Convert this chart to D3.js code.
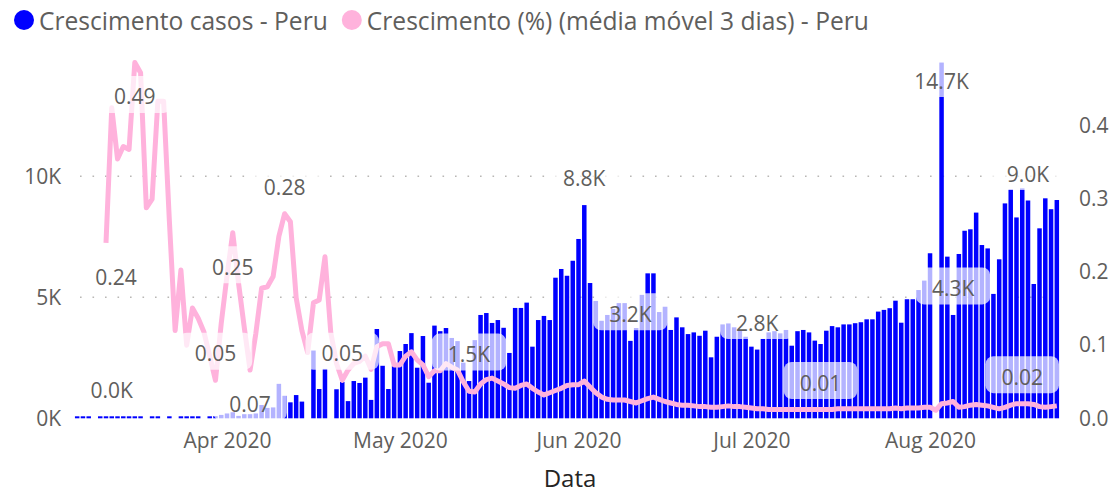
<!DOCTYPE html>
<html>
<head>
<meta charset="utf-8">
<script src="https://cdn.jsdelivr.net/npm/d3@7/dist/d3.min.js"></script>
<style>
  html, body { margin: 0; padding: 0; background: #fff; }
  svg { display: block; font-family: "Segoe UI", "Open Sans", sans-serif; }
</style>
</head>
<body>
<svg id="chart" width="1116" height="493"></svg>
<script>
// Daily new cases in Peru, one value per day starting 2020-03-06
const startDate = "2020-03-06";
const dailyCases = [
  20, 30, 25, 0, 30, 35, 40, 30, 35, 40, 45, 40, 0, 45, 40, 0, 45, 0, 40, 45, 40, 45, 0,
  60, 90, 140, 200, 250, 100, 170, 170, 200, 550, 430, 450, 1420, 930, 660, 960, 690, 0,
  2800, 1210, 2040, 0, 1200, 1500, 710, 1540, 1460, 1680, 760, 3690, 2170, 1210, 2170,
  2780, 3070, 3520, 2090, 3400, 1470, 3830, 3600, 3730, 3320, 3190, 2300, 1540, 3230,
  4270, 4350, 3940, 4060, 3740, 2700, 4560, 4560, 4780, 2960, 4060, 4230, 4060, 5810,
  6170, 5890, 6510, 7410, 8810, 5590, 4850, 4030, 4270, 4520, 4760, 4760, 3200, 3730,
  5100, 5990, 5990, 4390, 4610, 3650, 4170, 3760, 3480, 3550, 3410, 3620, 2520, 3370,
  3880, 3920, 3760, 3650, 3370, 2960, 2840, 3280, 3550, 3600, 3510, 3650, 3000, 3600,
  3650, 3550, 3210, 3070, 3620, 3810, 3760, 3880, 3880, 3930, 3970, 4090, 4090, 4410,
  4480, 4550, 4860, 3950, 4920, 4920, 5300, 5690, 6820, 0, 14700, 6680, 4270, 6790,
  7750, 7810, 8500, 7160, 7020, 5140, 6570, 8880, 9460, 8300, 9500, 9000, 5550, 7850,
  9090, 8640, 9020
];

// Growth rate, 3-day moving average (null where not yet defined)
const growthMA3 = [
  null, null, null, null, null,
  0.240, 0.425, 0.355, 0.372, 0.368, 0.487, 0.473, 0.288, 0.300, 0.434,
  0.434, 0.270, 0.120, 0.203, 0.100, 0.151, 0.137, 0.118, 0.085, 0.052,
  0.130, 0.195, 0.254, 0.185, 0.124, 0.066, 0.116, 0.178, 0.180, 0.194,
  0.249, 0.280, 0.269, 0.165, 0.120, 0.090, 0.158, 0.162, 0.221, 0.118,
  0.075, 0.052, 0.066, 0.075, 0.078, 0.085, 0.067, 0.098, 0.102, 0.102,
  0.073, 0.073, 0.085, 0.091, 0.080, 0.073, 0.057, 0.065, 0.065, 0.075,
  0.070, 0.066, 0.050, 0.037, 0.036, 0.047, 0.053, 0.055, 0.051, 0.047,
  0.042, 0.041, 0.045, 0.047, 0.041, 0.036, 0.032, 0.035, 0.038, 0.041,
  0.045, 0.046, 0.046, 0.051, 0.043, 0.035, 0.029, 0.026, 0.025, 0.025,
  0.025, 0.023, 0.021, 0.024, 0.027, 0.029, 0.026, 0.023, 0.021, 0.019,
  0.018, 0.018, 0.017, 0.016, 0.016, 0.015, 0.015, 0.016, 0.017, 0.016,
  0.016, 0.015, 0.014, 0.013, 0.013, 0.012, 0.012, 0.012, 0.012, 0.012,
  0.012, 0.012, 0.012, 0.012, 0.012, 0.012, 0.012, 0.013, 0.013, 0.013,
  0.013, 0.013, 0.013, 0.013, 0.013, 0.013, 0.013, 0.014, 0.013, 0.014,
  0.014, 0.014, 0.015, 0.015, 0.011, 0.020, 0.021, 0.023, 0.015, 0.016,
  0.018, 0.019, 0.018, 0.017, 0.015, 0.013, 0.015, 0.018, 0.020, 0.020,
  0.020, 0.019, 0.016, 0.015, 0.016, 0.017
];

const leftTicks = [0, 5000, 10000];
const rightTicks = [0, 0.1, 0.2, 0.3, 0.4];
const monthTicks = ["2020-04-01", "2020-05-01", "2020-06-01", "2020-07-01", "2020-08-01"];
const legendLabels = ["Crescimento casos - Peru", "Crescimento (%) (média móvel 3 dias) - Peru"];
const axisTitle = "Data";

// Days (by index) that carry a data label, and where the label sits
const barLabelDays = [
  { day: 6, place: "above" }, { day: 68, place: "above" }, { day: 88, place: "above" },
  { day: 96, place: "above" }, { day: 118, place: "above" }, { day: 150, place: "inside" },
  { day: 152, place: "above" }, { day: 165, place: "above" }
];
const lineLabelDays = [
  { day: 5, place: "below", dx: 10 }, { day: 10, place: "below" }, { day: 24, place: "above" },
  { day: 27, place: "below" }, { day: 30, place: "below" }, { day: 36, place: "above" },
  { day: 46, place: "above" }, { day: 129, place: "above" }, { day: 164, place: "above" }
];

const BLUE = "#0000FF";
const PINK = "#FFB2DC";
const TEXT = "#605E5C";
const DAY = 864e5;

const t0 = new Date(startDate + "T00:00:00Z").getTime();
const dates = dailyCases.map((_, i) => new Date(t0 + i * DAY));
const rows = dates.map((d, i) => ({ i, date: d, cases: dailyCases[i], growth: growthMA3[i] }));

const svg = d3.select("#chart");
const baseY = 418.3;

const x = d3.scaleUtc()
  .domain([new Date(t0 - 0.5 * DAY), new Date(t0 + (dailyCases.length - 0.5) * DAY)])
  .range([74.3, 1059.7]);
const dayW = x(new Date(t0 + DAY)) - x(new Date(t0));
const barW = dayW * 0.78;

const yL = d3.scaleLinear().domain([0, 15000]).range([baseY, baseY - 15 * 24.2]);
const yR = d3.scaleLinear().domain([0, 0.5]).range([baseY, baseY - 0.5 * 730.7]);

// gridlines
svg.append("g").selectAll("line").data(leftTicks.filter(t => t > 0)).join("line")
  .attr("x1", 80).attr("x2", 1060)
  .attr("y1", d => yL(d)).attr("y2", d => yL(d))
  .attr("stroke", "#B9B7B5").attr("stroke-width", 1.6)
  .attr("stroke-dasharray", "1.6 10.9");

// bars
svg.append("g").selectAll("rect").data(rows.filter(r => r.cases > 0)).join("rect")
  .attr("x", r => x(r.date) - barW / 2)
  .attr("width", barW)
  .attr("y", r => Math.min(yL(r.cases), baseY - 2))
  .attr("height", r => Math.max(baseY - yL(r.cases), 2))
  .attr("fill", BLUE);

// growth line
const line = d3.line()
  .defined(r => r.growth != null)
  .x(r => x(r.date))
  .y(r => yR(r.growth));
svg.append("path").datum(rows)
  .attr("d", line)
  .attr("fill", "none")
  .attr("stroke", PINK)
  .attr("stroke-width", 5)
  .attr("stroke-linejoin", "round");

// axes
const fontSize = 21;
const xAxis = svg.append("g").attr("transform", `translate(0,${baseY})`)
  .call(d3.axisBottom(x)
    .tickValues(monthTicks.map(s => new Date(s + "T00:00:00Z")))
    .tickFormat(d3.utcFormat("%b %Y"))
    .tickSize(0).tickPadding(15));
const leftAxis = svg.append("g").attr("transform", "translate(61,0)")
  .call(d3.axisLeft(yL).tickValues(leftTicks).tickFormat(d => d / 1000 + "K").tickSize(0).tickPadding(0));
const rightAxis = svg.append("g").attr("transform", "translate(1079,0)")
  .call(d3.axisRight(yR).tickValues(rightTicks).tickFormat(d3.format(".1f")).tickSize(0).tickPadding(0));
[xAxis, leftAxis, rightAxis].forEach(g => {
  g.select(".domain").remove();
  g.selectAll("text").attr("fill", TEXT).style("font-size", fontSize + "px")
    .style("font-family", '"Segoe UI", "Open Sans", sans-serif');
});

svg.append("text")
  .attr("x", 570).attr("y", 487)
  .attr("text-anchor", "middle")
  .attr("fill", "#252423")
  .style("font-size", "24px")
  .text(axisTitle);

// data labels with translucent backgrounds
const labels = [];
barLabelDays.forEach(l => {
  const r = rows[l.day];
  const top = yL(r.cases);
  labels.push({
    x: x(r.date),
    y: l.place === "inside" ? top + 18 : top - 27,
    text: d3.format(".1f")(r.cases / 1000) + "K"
  });
});
lineLabelDays.forEach(l => {
  const r = rows[l.day];
  const py = yR(r.growth);
  labels.push({
    x: x(r.date) + (l.dx || 0),
    y: l.place === "below" ? py + 34 : py - 27,
    text: d3.format(".2f")(r.growth)
  });
});

const boxG = svg.append("g");
const labG = svg.append("g");
labels.forEach(l => {
  const t = labG.append("text")
    .attr("x", l.x).attr("y", l.y)
    .attr("text-anchor", "middle")
    .attr("dominant-baseline", "central")
    .attr("fill", TEXT)
    .style("font-size", fontSize + "px")
    .text(l.text);
  const w = t.node().getComputedTextLength() + 32;
  boxG.append("rect")
    .attr("x", l.x - w / 2).attr("y", l.y - 2 - 18.5)
    .attr("width", w).attr("height", 37)
    .attr("rx", 8)
    .attr("fill", "#fff").attr("fill-opacity", 0.7);
});

// legend
const leg = svg.append("g");
let lx = 24;
[BLUE, PINK].forEach((c, k) => {
  leg.append("circle").attr("cx", lx).attr("cy", 20).attr("r", 10).attr("fill", c);
  const t = leg.append("text")
    .attr("x", lx + 15).attr("y", 20)
    .attr("dominant-baseline", "central")
    .attr("fill", TEXT)
    .style("font-size", "24.6px")
    .text(legendLabels[k]);
  lx = lx + 15 + t.node().getComputedTextLength() + 24;
});
</script>
</body>
</html>
